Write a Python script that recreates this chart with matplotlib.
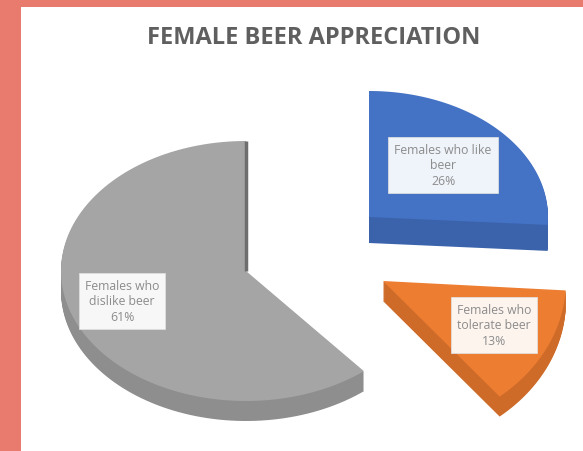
import numpy as np
import matplotlib.pyplot as plt
from matplotlib.patches import Polygon, Rectangle

# data
labels = ["Females who like\nbeer", "Females who\ntolerate beer", "Females who\ndislike beer"]
values = [26, 13, 61]
colors = ["#4472C4", "#ED7D31", "#A5A5A5"]
side_colors = ["#3B63AB", "#CF6B29", "#8E8E8E"]

# layout of the exploded 3d slices (pixel space)
centers = [(369, 218), (383, 282), (246, 272)]
rx = [179, 183, 185]
ry = [126, 150, 130]
thick = [26, 20, 20]
label_pos = [(443, 166), (494, 326), (122, 302)]

W, H = 583, 452
fig = plt.figure(figsize=(W / 100, H / 100), dpi=100, facecolor="#E87A6E")
ax = fig.add_axes([0, 0, 1, 1])
ax.set_xlim(0, W)
ax.set_ylim(H, 0)
ax.axis("off")
ax.add_patch(Rectangle((21, 8), W - 21, H - 8, facecolor="white", edgecolor="none"))

ax.text(314, 38, "FEMALE BEER APPRECIATION", ha="center", va="center",
        fontsize=17, fontweight="bold", color="#5F5F5F", family="Open Sans")

total = sum(values)
start = 0.0
for i, v in enumerate(values):
    a0 = start / total * 2 * np.pi
    a1 = (start + v) / total * 2 * np.pi
    start += v
    cx, cy = centers[i]
    t = np.linspace(a0, a1, 120)
    xs = np.concatenate([[cx], cx + rx[i] * np.sin(t)])
    ys = np.concatenate([[cy], cy - ry[i] * np.cos(t)])
    # side walls: stacked copies shifted down
    for d in range(thick[i], 0, -1):
        ax.add_patch(Polygon(np.column_stack([xs, ys + d]), closed=True,
                             facecolor=side_colors[i], edgecolor="none"))
    ax.add_patch(Polygon(np.column_stack([xs, ys]), closed=True,
                         facecolor=colors[i], edgecolor="none"))
    if i == 2:
        # visible cut face along the closing edge
        ax.plot([cx, cx + rx[i] * np.sin(a1)], [cy, cy - ry[i] * np.cos(a1)],
                color="#6E6E6E", lw=2.5, solid_capstyle="butt")
    lx, ly = label_pos[i]
    ax.text(lx, ly, f"{labels[i]}\n{v}%", ha="center", va="center",
            fontsize=8.8, color="#8C8C8C", family="Open Sans", linespacing=1.25,
            bbox=dict(boxstyle="square,pad=0.5", facecolor="white",
                      edgecolor="#E0E0E0", lw=0.6, alpha=0.92))

fig.savefig("out.png", dpi=100, facecolor=fig.get_facecolor())
